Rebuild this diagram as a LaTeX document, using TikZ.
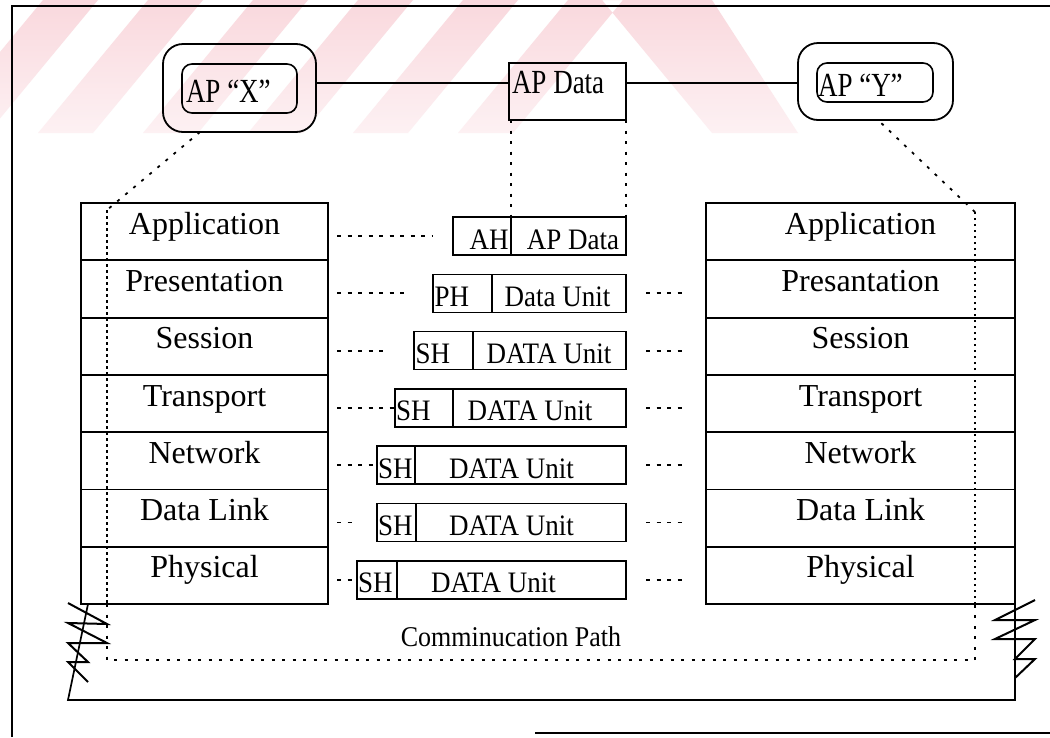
\documentclass[tikz,border=0pt]{standalone}
\usepackage{fontspec}
\usepackage{graphicx}
\setmainfont{Liberation Serif}
\usetikzlibrary{calc}
\newcommand{\vst}[2]{\scalebox{1}[#1]{#2}}
\definecolor{wmtop}{RGB}{249,216,221}
\definecolor{wmbot}{RGB}{253,241,243}
\begin{document}
\begin{tikzpicture}[x=1pt,y=-1pt,
  every node/.style={inner sep=0pt, outer sep=0pt},
  frame/.style={line width=1.7pt},
  layer/.style={draw, line width=1.8pt, minimum height=57.3pt,
    text height=17pt, text depth=12pt, font=\fontsize{32}{36}\selectfont},
  cell/.style={draw, line width=1.6pt, minimum height=38pt, anchor=north west},
  small/.style={font=\fontsize{27}{30}\selectfont},
  aplabel/.style={font=\fontsize{27}{30}\selectfont, anchor=base west},
  dashline/.style={line width=1.8pt, dash pattern=on 4pt off 6.5pt},
  dotdense/.style={line width=1.8pt, dash pattern=on 2.5pt off 3.5pt},
  dotsparse/.style={line width=1.8pt, dash pattern=on 3pt off 7.5pt},
  zig/.style={line width=2pt, line join=miter},
]
\useasboundingbox (0,0) rectangle (1050,737);
\fill[white] (0,0) rectangle (1050,737);

% faint diagonal band pattern along the top strip
\begin{scope}
  \clip (-67,133) -- (-12,133) -- (98,0) -- (43,0) -- cycle
        (38,133) -- (93,133) -- (203,0) -- (148,0) -- cycle
        (143,133) -- (198,133) -- (308,0) -- (253,0) -- cycle
        (248,133) -- (303,133) -- (413,0) -- (358,0) -- cycle
        (353,133) -- (408,133) -- (518,0) -- (463,0) -- cycle
        (458,133) -- (513,133) -- (623,0) -- (568,0) -- cycle
        (602,0) -- (712,0) -- (798,133) -- (712,133) -- cycle;
  \shade[top color=wmtop, bottom color=wmbot] (0,0) rectangle (1050,133);
\end{scope}

% outer frame
\draw[frame] (12,737) -- (12,6) -- (1050,6);
\draw[frame] (535,733) -- (1050,733);

% application processes and the data exchanged between them
\node[draw, line width=1.8pt, rounded corners=20pt, minimum width=153pt, minimum height=88pt] (APXo) at (239.5,88) {};
\node[draw, line width=1.6pt, rounded corners=10pt, minimum width=115pt, minimum height=49pt] (APXi) at (239.5,88.5) {};
\node[aplabel] (APXt) at (186,102) {\vst{1.25}{AP “X”}};

\node[draw, line width=1.8pt, rounded corners=20pt, minimum width=155pt, minimum height=77pt] (APYo) at (875.5,81.5) {};
\node[draw, line width=1.6pt, rounded corners=10pt, minimum width=116pt, minimum height=39pt] (APYi) at (875,82.5) {};
\node[aplabel] (APYt) at (818,96) {\vst{1.25}{AP “Y”}};

\node[draw, line width=1.7pt, minimum width=117pt, minimum height=57pt] (APD) at (567.5,91.5) {};
\node[aplabel] (APDt) at (512,93) {\vst{1.25}{AP Data}};

\draw[frame] ([yshift=5pt]APXo.east) -- ([yshift=5pt]APXo.east -| APD.west);
\draw[frame] ([yshift=8.5pt]APD.east) -- ([yshift=8.5pt]APD.east -| APYo.west);

% the two seven-layer stacks
\foreach \i/\t in {1/Application,2/Presentation,3/Session,4/Transport,5/Network,6/Data Link,7/Physical}
  \node[layer, minimum width=247pt] (L\i) at (204.5,{203+57.3*(\i-0.5)}) {\t};
\foreach \i/\t in {1/Application,2/Presantation,3/Session,4/Transport,5/Network,6/Data Link,7/Physical}
  \node[layer, minimum width=309pt] (R\i) at (860.5,{203+57.3*(\i-0.5)}) {\t};

% protocol data units: header cell + data cell
\node[cell, minimum width=58pt]  (h1) at (453,217)   {};
\node[cell, minimum width=115pt] (d1) at (h1.north east) {};
\node[cell, minimum width=59pt]  (h2) at (433,274.3) {};
\node[cell, minimum width=134pt] (d2) at (h2.north east) {};
\node[cell, minimum width=59pt]  (h3) at (414,331.6) {};
\node[cell, minimum width=153pt] (d3) at (h3.north east) {};
\node[cell, minimum width=58pt]  (h4) at (395,388.9) {};
\node[cell, minimum width=173pt] (d4) at (h4.north east) {};
\node[cell, minimum width=38pt]  (h5) at (377,446.2) {};
\node[cell, minimum width=211pt] (d5) at (h5.north east) {};
\node[cell, minimum width=39pt]  (h6) at (377,503.5) {};
\node[cell, minimum width=210pt] (d6) at (h6.north east) {};
\node[cell, minimum width=40pt]  (h7) at (357,560.8) {};
\node[cell, minimum width=229pt] (d7) at (h7.north east) {};

\node[small, anchor=base east] (a1) at (508.5,249)   {\vst{1.1}{AH}};
\node[small, anchor=base west] (a2) at (434.5,306.3) {\vst{1.1}{PH}};
\node[small, anchor=base west] (a3) at (415.5,363.6) {\vst{1.1}{SH}};
\node[small, anchor=base west] (a4) at (396,420.9)   {\vst{1.1}{SH}};
\node[small, anchor=base west] (a5) at (378,478.2)   {\vst{1.1}{SH}};
\node[small, anchor=base west] (a6) at (378,535.5)   {\vst{1.1}{SH}};
\node[small, anchor=base west] (a7) at (358,592.8)   {\vst{1.1}{SH}};

\node[small, anchor=base] (t1) at (573,249)     {\vst{1.1}{AP Data}};
\node[small, anchor=base] (t2) at (557.5,306.3) {\vst{1.1}{Data Unit}};
\node[small, anchor=base] (t3) at (549,363.6)   {\vst{1.1}{DATA Unit}};
\node[small, anchor=base] (t4) at (530,420.9)   {\vst{1.1}{DATA Unit}};
\node[small, anchor=base] (t5) at (511.5,478.2) {\vst{1.1}{DATA Unit}};
\node[small, anchor=base] (t6) at (511.5,535.5) {\vst{1.1}{DATA Unit}};
\node[small, anchor=base] (t7) at (493.5,592.8) {\vst{1.1}{DATA Unit}};

% AP data carried down into the application layer unit
\draw[dotsparse] (h1.north east |- APD.south) -- (h1.north east);
\draw[dotsparse] (APD.south east) -- (d1.north east);

% peer-layer dashes, sending side
\draw[dashline] ([xshift=9pt]L1.east |- h1.west) -- ([xshift=-21pt]h1.west);
\draw[dashline] ([xshift=9pt]L2.east |- h2.west) -- ([xshift=-23pt]h2.west);
\draw[dashline] ([xshift=9pt]L3.east |- h3.west) -- ([xshift=-26pt]h3.west);
\draw[dashline] ([xshift=9pt]L4.east |- h4.west) -- (h4.west);
\draw[dashline] ([xshift=9pt]L5.east |- h5.west) -- (h5.west);
\draw[dashline] ([xshift=9pt]L6.east |- h6.west) -- ([xshift=-24pt]h6.west);
\draw[dashline] ([xshift=9pt]L7.east |- h7.west) -- (h7.west);

% peer-layer dashes, receiving side
\foreach \i in {2,...,7}
  \draw[dashline] ([xshift=20pt]d\i.east) -- ([xshift=-21pt]R\i.west |- d\i.east);

% communication path through both stacks
\coordinate (pA) at (107,210);
\coordinate (pB) at (107,604);
\coordinate (pC) at (107,660);
\coordinate (pD) at (975,660);
\coordinate (pE) at (975,604);
\coordinate (pF) at (975,212);
\draw[dotsparse] ([xshift=-39.5pt]APXo.south) -- (pA);
\draw[dotdense] (pA) -- (pB);
\draw[dotsparse] (pB) -- (pC) -- (pD) -- (pE);
\draw[dotdense] (pE) -- (pF);
\draw[dotsparse] (pF) -- ([xshift=2.5pt]APYo.south);

% physical medium
\coordinate (mBL) at (68,700);
\coordinate (mBR) at (1015,700);
\draw[frame] ([xshift=7pt]L7.south west) -- (mBL) -- (mBR) -- (R7.south east);
\node[small, font=\fontsize{26}{30}\selectfont] (cp) at (511,637) {\vst{1.1}{Comminucation Path}};

% break marks on the medium
\draw[zig] (68,603) -- (107,624) -- (68,623) -- (107,643) -- (68,643) -- (88,662) -- (68,662) -- (88,682);
\draw[zig] (1035,600) -- (995,620) -- (1035,620) -- (995,639) -- (1035,639) -- (1015,659) -- (1035,659) -- (1015,678);
\end{tikzpicture}
\end{document}
